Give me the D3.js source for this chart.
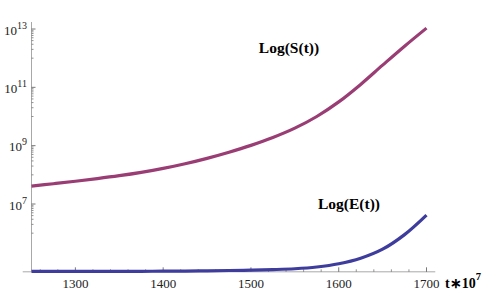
<!DOCTYPE html>
<html lang="en">
<head>
    <meta charset="UTF-8">
    <title>Log(S(t)) and Log(E(t))</title>
    <style>
        body { margin: 0; background: #fff; }
        svg { display: block; }
        svg text { font-family: "Liberation Serif", "Times New Roman", serif; }
    </style>
    <script src="https://d3js.org/d3.v7.min.js"></script>
</head>
<body>
    <script>
        // time in units of 10^7, values as log10
        const tValues = [1250, 1275, 1300, 1325, 1350, 1375, 1400, 1425, 1450, 1475,
                         1500, 1525, 1550, 1575, 1600, 1625, 1650, 1675, 1700];
        const logS = [7.615, 7.695, 7.78, 7.87, 7.97, 8.085, 8.22, 8.38, 8.565, 8.775,
                      9.01, 9.28, 9.60, 10.00, 10.50, 11.10, 11.76, 12.41, 13.03];
        const logE = [4.69, 4.69, 4.69, 4.69, 4.69, 4.69, 4.70, 4.70, 4.71, 4.72,
                      4.73, 4.75, 4.78, 4.84, 4.95, 5.14, 5.45, 5.95, 6.62];
        const xTicks = [1300, 1400, 1500, 1600, 1700];
        const yTickExps = [7, 9, 11, 13];

        const WIDTH = 485;
        const HEIGHT = 292;
        const S_COLOR = "#993d74";
        const E_COLOR = "#3e3d9e";
        const AXIS_COLOR = "#a8a8a8";

        const svg = d3.select("body").append("svg")
            .attr("width", WIDTH)
            .attr("height", HEIGHT);

        const x = d3.scaleLinear().domain([1250, 1700]).range([31.5, 426.5]);
        const y = d3.scaleLog().domain([1e7, 1e13]).range([204, 29]);
        const yBottom = Math.pow(10, 4.675);
        const yTop = Math.pow(10, 13.24);
        const axisY = y(yBottom);

        // axis lines
        svg.append("line")
            .attr("x1", x(1240)).attr("x2", x(1710))
            .attr("y1", axisY).attr("y2", axisY)
            .attr("stroke", AXIS_COLOR).attr("stroke-width", 1);
        svg.append("line")
            .attr("x1", x(1250)).attr("x2", x(1250))
            .attr("y1", axisY).attr("y2", y(yTop))
            .attr("stroke", AXIS_COLOR).attr("stroke-width", 1);

        // x ticks (pointing up)
        const xMinor = d3.range(1260, 1710, 20).filter(v => !xTicks.includes(v));
        svg.selectAll(".xminor")
            .data(xMinor)
            .enter().append("line")
            .attr("x1", d => x(d)).attr("x2", d => x(d))
            .attr("y1", axisY).attr("y2", axisY - 2.5)
            .attr("stroke", "#777").attr("stroke-width", 0.8);
        svg.selectAll(".xmajor")
            .data(xTicks)
            .enter().append("line")
            .attr("x1", d => x(d)).attr("x2", d => x(d))
            .attr("y1", axisY).attr("y2", axisY - 4.5)
            .attr("stroke", "#555").attr("stroke-width", 0.8);
        svg.selectAll(".xlabel")
            .data(xTicks)
            .enter().append("text")
            .attr("x", d => x(d))
            .attr("y", 288)
            .attr("text-anchor", "middle")
            .attr("font-size", "13px")
            .attr("fill", "#222")
            .text(d => d);

        // y ticks: minor at k*10^(2n), major at odd exponents
        const yMinor = [];
        [6, 8, 10, 12].forEach(e => {
            for (let k = 1; k <= 9; k++) yMinor.push(k * Math.pow(10, e));
        });
        svg.selectAll(".yminor")
            .data(yMinor)
            .enter().append("line")
            .attr("x1", x(1250)).attr("x2", x(1250) + 2)
            .attr("y1", d => y(d)).attr("y2", d => y(d))
            .attr("stroke", "#777").attr("stroke-width", 0.8);
        svg.selectAll(".ymajor")
            .data(yTickExps)
            .enter().append("line")
            .attr("x1", x(1250)).attr("x2", x(1250) + 4)
            .attr("y1", d => y(Math.pow(10, d))).attr("y2", d => y(Math.pow(10, d)))
            .attr("stroke", "#555").attr("stroke-width", 0.8);
        const ylab = svg.selectAll(".ylabel")
            .data(yTickExps)
            .enter().append("text")
            .attr("x", 27)
            .attr("y", d => y(Math.pow(10, d)) + 5.5)
            .attr("text-anchor", "end")
            .attr("font-size", "13px")
            .attr("fill", "#222");
        ylab.append("tspan").text("10");
        ylab.append("tspan")
            .attr("dy", -6)
            .attr("font-size", "10px")
            .text(d => d);

        // curves
        const line = d3.line()
            .x(d => x(d[0]))
            .y(d => y(Math.pow(10, d[1])))
            .curve(d3.curveCatmullRom);

        svg.append("path")
            .datum(tValues.map((t, i) => [t, logS[i]]))
            .attr("d", line)
            .attr("fill", "none")
            .attr("stroke", S_COLOR)
            .attr("stroke-width", 3.2);

        svg.append("path")
            .datum(tValues.map((t, i) => [t, logE[i]]))
            .attr("d", line)
            .attr("fill", "none")
            .attr("stroke", E_COLOR)
            .attr("stroke-width", 3.2);

        // curve labels
        svg.append("text")
            .attr("x", 289).attr("y", 52.5)
            .attr("text-anchor", "middle")
            .attr("font-size", "15.5px")
            .attr("font-weight", "bold")
            .text("Log(S(t))");
        svg.append("text")
            .attr("x", 349).attr("y", 208.5)
            .attr("text-anchor", "middle")
            .attr("font-size", "15.5px")
            .attr("font-weight", "bold")
            .text("Log(E(t))");

        // axis label t*10^7
        const tl = svg.append("text")
            .attr("x", 445).attr("y", 288)
            .attr("font-size", "14px")
            .attr("font-weight", "bold");
        tl.append("tspan").text("t\u221710");
        tl.append("tspan").attr("dy", -8).attr("font-size", "10.5px").text("7");
    </script>
</body>
</html>
